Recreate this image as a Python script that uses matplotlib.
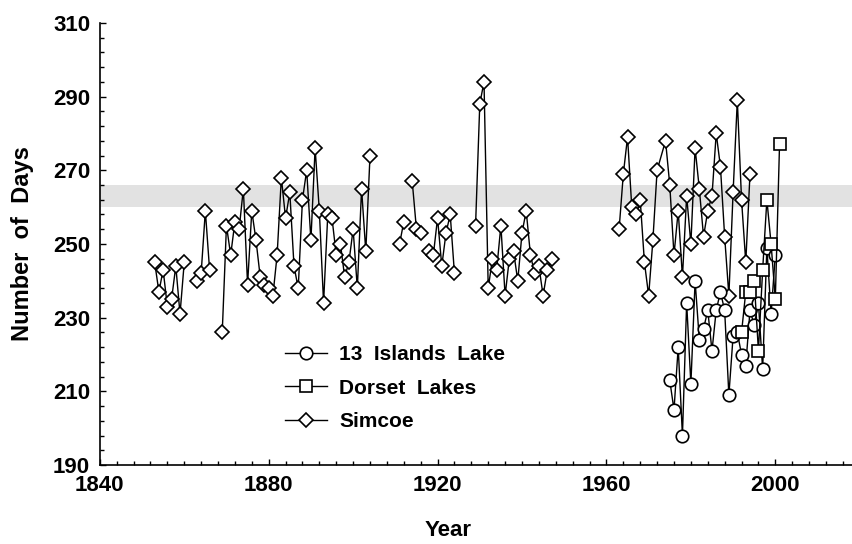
import numpy as np
import matplotlib
matplotlib.use('Agg')
import matplotlib.pyplot as plt

plt.rcParams['font.family'] = ['Liberation Sans', 'DejaVu Sans']
plt.rcParams['font.weight'] = 'bold'

nan = np.nan

# Lake Simcoe ice duration (days); nan marks missing years (line breaks)
simcoe_years = [1853, 1854, 1855, 1856, 1857, 1858, 1859, 1860, 1861,
                1863, 1864, 1865, 1866, 1867,
                1869, 1870, 1871, 1872, 1873, 1874, 1875, 1876, 1877, 1878,
                1879, 1880, 1881, 1882, 1883, 1884, 1885, 1886, 1887, 1888,
                1889, 1890, 1891, 1892, 1893, 1894, 1895, 1896, 1897, 1898,
                1899, 1900, 1901, 1902, 1903, 1904, 1905,
                1911, 1912, 1913,
                1914, 1915, 1916, 1917,
                1918, 1919, 1920, 1921, 1922, 1923, 1924, 1925,
                1929, 1930, 1931, 1932, 1933, 1934, 1935, 1936, 1937, 1938,
                1939, 1940, 1941, 1942, 1943, 1944, 1945, 1946, 1947, 1948,
                1963, 1964, 1965, 1966, 1967, 1968, 1969, 1970, 1971, 1972,
                1974, 1975, 1976, 1977, 1978, 1979, 1980, 1981, 1982, 1983,
                1984, 1985, 1986, 1987, 1988, 1989, 1990, 1991, 1992, 1993, 1994]
simcoe_days = [245, 237, 243, 233, 235, 244, 231, 245, nan,
               240, 242, 259, 243, nan,
               226, 255, 247, 256, 254, 265, 239, 259, 251, 241,
               239, 238, 236, 247, 268, 257, 264, 244, 238, 262,
               270, 251, 276, 259, 234, 258, 257, 247, 250, 241,
               245, 254, 238, 265, 248, 274, nan,
               250, 256, nan,
               267, 254, 253, nan,
               248, 247, 257, 244, 253, 258, 242, nan,
               255, 288, 294, 238, 246, 243, 255, 236, 246, 248,
               240, 253, 259, 247, 242, 244, 236, 243, 246, nan,
               254, 269, 279, 260, 258, 262, 245, 236, 251, 270,
               278, 266, 247, 259, 241, 263, 250, 276, 265, 252,
               259, 263, 280, 271, 252, 236, 264, 289, 262, 245, 269]

islands_years = list(range(1975, 2001))
islands_days = [213, 205, 222, 198, 234, 212, 240, 224, 227, 232,
                221, 232, 237, 232, 209, 225, 226, 220, 217, 232,
                228, 234, 216, 249, 231, 247]

dorset_years = list(range(1992, 2002))
dorset_days = [226, 237, 237, 240, 221, 243, 262, 250, 235, 277]

y_major = [190, 210, 230, 250, 270, 290, 310]
x_major = [1840, 1880, 1920, 1960, 2000]

fig = plt.figure(figsize=(8.53, 5.44), dpi=100)
ax = fig.add_axes([0.117, 0.145, 0.883, 0.813])

ax.axhspan(260, 266, color='#e2e2e2', lw=0, zorder=0)

ln_s, = ax.plot(simcoe_years, simcoe_days, color='black', lw=1.0, marker='D',
                ms=6.8, mfc='white', mec='black', mew=1.2, zorder=2)
ln_i, = ax.plot(islands_years, islands_days, color='black', lw=1.0, marker='o',
                ms=9, mfc='white', mec='black', mew=1.2, zorder=3)
ln_d, = ax.plot(dorset_years, dorset_days, color='black', lw=1.0, marker='s',
                ms=9, mfc='white', mec='black', mew=1.2, zorder=4)

ax.set_xlim(1840, 2018.4)
ax.set_ylim(190, 310)
ax.set_xticks(x_major)
ax.set_xticks(np.arange(1840, 2018, 4), minor=True)
ax.set_yticks(y_major)
ax.set_yticks(np.arange(190, 311, 4), minor=True)
ax.tick_params(which='both', direction='in', width=1, labelsize=16)
ax.tick_params(axis='y', which='major', length=4, pad=7)
ax.tick_params(axis='x', which='major', length=4, pad=7)
ax.tick_params(which='minor', length=3)
for side in ['top', 'right']:
    ax.spines[side].set_visible(False)
for side in ['left', 'bottom']:
    ax.spines[side].set_linewidth(1.2)
for lbl in ax.get_xticklabels() + ax.get_yticklabels():
    lbl.set_fontweight('bold')

ax.set_xlabel('Year', fontsize=16, fontweight='bold')
ax.set_ylabel('Number  of  Days', fontsize=17, fontweight='bold')
ax.xaxis.set_label_coords(0.462, -0.125)
ax.yaxis.set_label_coords(-0.088, 0.5)

leg = ax.legend([ln_i, ln_d, ln_s], ['13  Islands  Lake', 'Dorset  Lakes', 'Simcoe'],
                loc='center left', bbox_to_anchor=(285 / 853, 1 - 388 / 544),
                bbox_transform=fig.transFigure, frameon=False, fontsize=15,
                handlelength=2.0, handletextpad=0.6, labelspacing=0.7,
                borderpad=0, borderaxespad=0)
for t in leg.get_texts():
    t.set_fontweight('bold')

fig.savefig('out.png', dpi=100)
